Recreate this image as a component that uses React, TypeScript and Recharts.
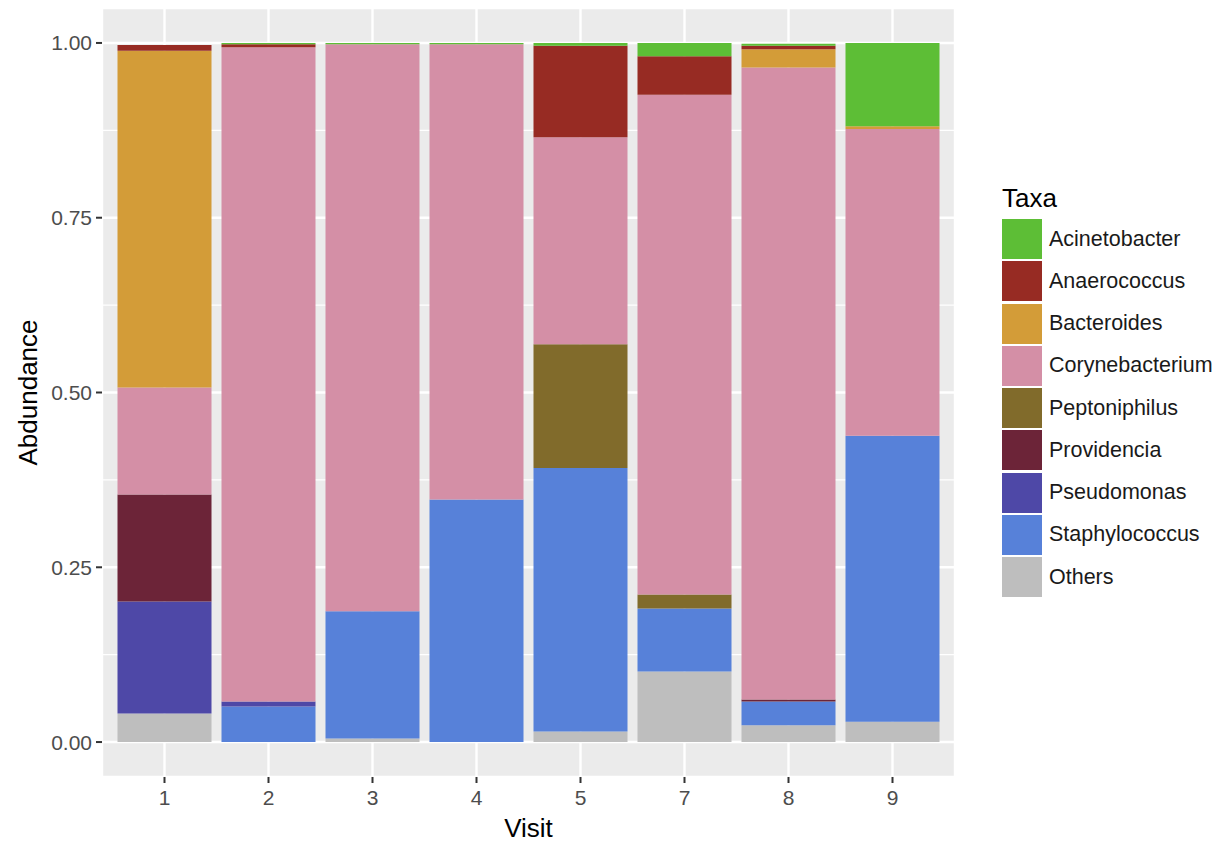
import React from "react";
import {
  BarChart,
  Bar,
  XAxis,
  YAxis,
  CartesianGrid,
  Label,
} from "recharts";

const VISITS = ["1", "2", "3", "4", "5", "7", "8", "9"];

// relative abundance per visit
const acinetobacter = [0, 0.002, 0.002, 0.002, 0.004, 0.019, 0.003, 0.119];
const anaerococcus = [0.008, 0.004, 0, 0, 0.131, 0.055, 0.005, 0];
const bacteroides = [0.482, 0, 0, 0, 0, 0, 0.026, 0.004];
const corynebacterium = [0.153, 0.936, 0.811, 0.651, 0.296, 0.715, 0.904, 0.439];
const peptoniphilus = [0, 0, 0, 0, 0.177, 0.02, 0, 0];
const providencia = [0.153, 0, 0, 0, 0, 0, 0.003, 0];
const pseudomonas = [0.16, 0.007, 0, 0, 0, 0, 0, 0];
const staphylococcus = [0, 0.051, 0.182, 0.347, 0.377, 0.09, 0.034, 0.409];
const others = [0.041, 0, 0.005, 0, 0.015, 0.101, 0.024, 0.029];

const Y_TICKS = [0, 0.25, 0.5, 0.75, 1];
const Y_MINOR = [0.125, 0.375, 0.625, 0.875];

// legend order (top of stack first)
const TAXA = [
  { key: "Acinetobacter", values: acinetobacter, color: "#5DBE36" },
  { key: "Anaerococcus", values: anaerococcus, color: "#972B23" },
  { key: "Bacteroides", values: bacteroides, color: "#D39C38" },
  { key: "Corynebacterium", values: corynebacterium, color: "#D48FA6" },
  { key: "Peptoniphilus", values: peptoniphilus, color: "#816B2B" },
  { key: "Providencia", values: providencia, color: "#6C2438" },
  { key: "Pseudomonas", values: pseudomonas, color: "#4E48A7" },
  { key: "Staphylococcus", values: staphylococcus, color: "#5781D9" },
  { key: "Others", values: others, color: "#BEBEBE" },
];

const data = VISITS.map((visit, i) => {
  const row: Record<string, string | number> = { visit };
  TAXA.forEach((t) => {
    row[t.key] = t.values[i];
  });
  return row;
});

const FONT = "'Liberation Sans', Arial, Helvetica, sans-serif";

const YTitle = ({ viewBox }: any) => {
  const cx = viewBox.x + 28;
  const cy = viewBox.y + viewBox.height / 2;
  return (
    <text
      x={cx}
      y={cy}
      transform={`rotate(-90 ${cx} ${cy})`}
      textAnchor="middle"
      dominantBaseline="central"
      fontSize={26}
      fill="#000"
      fontFamily={FONT}
    >
      Abdundance
    </text>
  );
};

const TaxaLegend = () => (
  <div
    style={{
      position: "absolute",
      left: 1002,
      top: 183,
      fontFamily: FONT,
    }}
  >
    <div style={{ fontSize: 26, lineHeight: "30px", marginBottom: 5 }}>Taxa</div>
    {TAXA.map((t) => (
      <div
        key={t.key}
        style={{ display: "flex", alignItems: "center", height: 42.25 }}
      >
        <div style={{ width: 40, height: 40, background: t.color }} />
        <span style={{ marginLeft: 7, fontSize: 21.5, color: "#1a1a1a" }}>
          {t.key}
        </span>
      </div>
    ))}
  </div>
);

export default function App() {
  const stackOrder = [...TAXA].reverse();
  return (
    <div
      style={{
        position: "absolute",
        left: 0,
        top: 0,
        width: 1229,
        height: 847,
        background: "#fff",
        fontFamily: FONT,
      }}
    >
      <BarChart
        width={1229}
        height={847}
        data={data}
        margin={{ top: 8, right: 274, bottom: 0, left: 0 }}
        barCategoryGap={5}
      >
        <CartesianGrid fill="#EBEBEB" stroke="#FFFFFF" strokeWidth={2.4} />
        <CartesianGrid
          stroke="#FFFFFF"
          strokeWidth={1.1}
          vertical={false}
          horizontalValues={Y_MINOR}
        />
        <XAxis
          dataKey="visit"
          height={70}
          padding={{ left: 10.5, right: 10.5 }}
          axisLine={false}
          tickLine={{ stroke: "#333333", strokeWidth: 2 }}
          tickSize={6}
          tickMargin={7}
          tick={{ fill: "#4D4D4D", fontSize: 21, fontFamily: FONT }}
        >
          <Label
            value="Visit"
            position="insideBottom"
            offset={10}
            style={{ fontSize: 26, fill: "#000", fontFamily: FONT }}
          />
        </XAxis>
        <YAxis
          width={102}
          domain={[-0.05, 1.05]}
          ticks={Y_TICKS}
          tickFormatter={(v: number) => v.toFixed(2)}
          axisLine={false}
          tickLine={{ stroke: "#333333", strokeWidth: 2 }}
          tickSize={6}
          tickMargin={4}
          tick={{ fill: "#4D4D4D", fontSize: 21, fontFamily: FONT }}
          allowDataOverflow
        >
          <Label content={<YTitle />} />
        </YAxis>
        {stackOrder.map((t) => (
          <Bar
            key={t.key}
            dataKey={t.key}
            stackId="taxa"
            fill={t.color}
            isAnimationActive={false}
          />
        ))}
      </BarChart>
      <TaxaLegend />
    </div>
  );
}
